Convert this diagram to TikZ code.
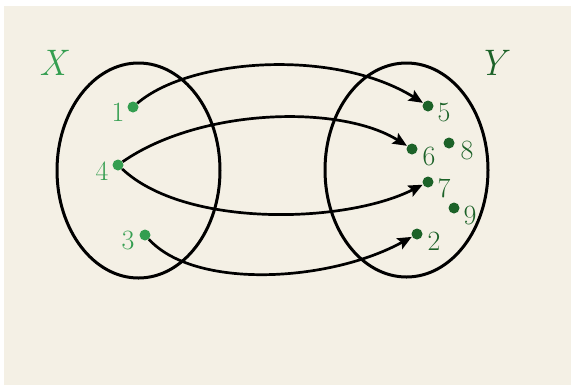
\documentclass[tikz,border=0pt]{standalone}
\usepackage{fontspec}
\usetikzlibrary{arrows.meta}
\definecolor{cream}{RGB}{244,240,229}
\definecolor{lgreen}{RGB}{52,158,80}
\definecolor{dgreen}{RGB}{28,98,40}
\tikzset{
  setline/.style={line width=3bp, black},
  mapline/.style={line width=2.7bp, black, -{Stealth[length=14bp,width=12bp,inset=2.5bp]}, shorten >=0.3bp},
  ldot/.style={circle, fill=lgreen, inner sep=0pt, minimum size=11bp},
  rdot/.style={circle, fill=dgreen, inner sep=0pt, minimum size=11bp},
  llab/.style={text=lgreen, inner sep=0pt, font=\fontsize{28}{32}\selectfont},
  rlab/.style={text=dgreen, inner sep=0pt, font=\fontsize{28}{32}\selectfont},
  setlab/.style={inner sep=0pt, font=\fontsize{37}{42}\selectfont\itshape}
}
\begin{document}
\begin{tikzpicture}[x=1bp,y=-1bp]
\useasboundingbox (0,0) rectangle (571,387);
\fill[white] (0,0) rectangle (571,387);
\fill[cream] (4,6) rectangle (571,385);
% sets
\draw[setline] (138.5,170.5) ellipse [x radius=81.5, y radius=107.5];
\draw[setline] (406.5,170) ellipse [x radius=81.5, y radius=107];
\node[setlab, text=lgreen] (X) at (53,63) {X};
\node[setlab, text=dgreen] (Y) at (492,63) {Y};
% points of X
\node[ldot] (p1) at (133,107) {};
\node[ldot] (p4) at (118,165) {};
\node[ldot] (p3) at (145,235) {};
\node[llab] (l1) at (118,112) {1};
\node[llab] (l4) at (102,171) {4};
\node[llab] (l3) at (128,240) {3};
% points of Y
\node[rdot] (p5) at (428,106) {};
\node[rdot] (p6) at (412,149) {};
\node[rdot] (p8) at (449,143) {};
\node[rdot] (p7) at (428,182) {};
\node[rdot] (p9) at (454,208) {};
\node[rdot] (p2) at (417,234) {};
\node[rlab] (l5) at (444,113) {5};
\node[rlab] (l6) at (429,156) {6};
\node[rlab] (l8) at (467,150) {8};
\node[rlab] (l7) at (444,188) {7};
\node[rlab] (l9) at (470,215) {9};
\node[rlab] (l2) at (434,241) {2};
% mapping
\draw[mapline] (p1) .. controls (190,58) and (335,48) .. (p5);
\draw[mapline] (p4) .. controls (200,108) and (340,104) .. (p6);
\draw[mapline] (p4) .. controls (185,228) and (345,224) .. (p7);
\draw[mapline] (p3) .. controls (195,290) and (330,282) .. (p2);
\end{tikzpicture}
\end{document}
